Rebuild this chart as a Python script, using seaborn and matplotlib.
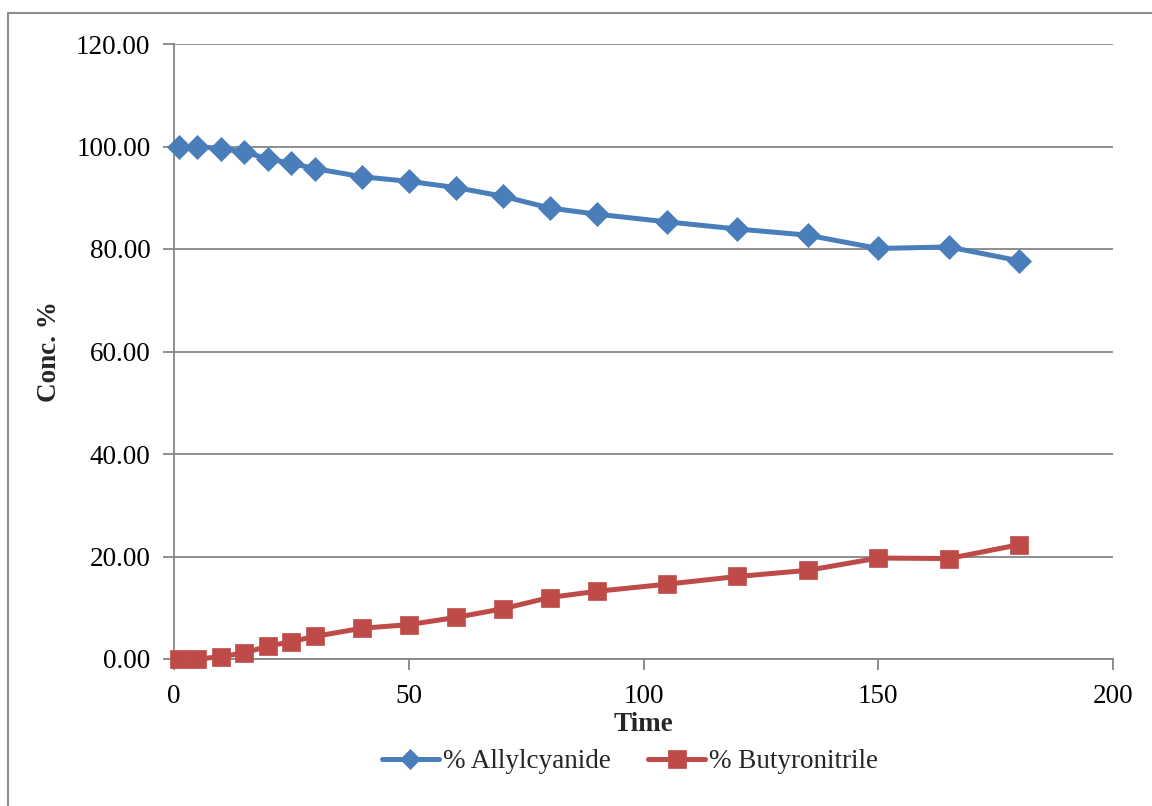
import matplotlib
matplotlib.use("Agg")
import matplotlib.pyplot as plt
import seaborn as sns
import pandas as pd
from matplotlib.lines import Line2D

time = [1, 5, 10, 15, 20, 25, 30, 40, 50, 60, 70, 80, 90, 105, 120, 135, 150, 165, 180]
allylcyanide = [100.0, 100.0, 99.6, 98.9, 97.6, 96.7, 95.7, 94.1, 93.2, 92.0, 90.3, 88.0, 86.8, 85.3, 83.9, 82.7, 80.1, 80.4, 77.7]
butyronitrile = [0.0, 0.0, 0.45, 1.2, 2.5, 3.4, 4.4, 6.0, 6.7, 8.1, 9.8, 12.0, 13.2, 14.6, 16.1, 17.3, 19.7, 19.6, 22.3]
series_names = ["% Allylcyanide", "% Butyronitrile"]
y_ticks = [0, 20, 40, 60, 80, 100, 120]
x_ticks = [0, 50, 100, 150, 200]

sns.set_theme(style="white")
plt.rcParams['font.family'] = ['Liberation Serif', 'DejaVu Serif']

fig = plt.figure(figsize=(11.52, 8.06), dpi=100)
ax = fig.add_axes([174/1152, 1-659/806, (1113-174)/1152, (659-44)/806])

df_a = pd.DataFrame({"Time": time, "Conc": allylcyanide})
df_b = pd.DataFrame({"Time": time, "Conc": butyronitrile})

blue = "#4A7EBB"
red = "#BE4B48"
grid_c = "#868686"
fs = 19.5

sns.lineplot(data=df_a, x="Time", y="Conc", ax=ax, color=blue, linewidth=3.6,
             marker="D", markersize=12, markeredgecolor=blue, markeredgewidth=0.5,
             label=series_names[0], zorder=3, clip_on=False)
sns.lineplot(data=df_b, x="Time", y="Conc", ax=ax, color=red, linewidth=3.6,
             marker="s", markersize=13, markeredgecolor=red, markeredgewidth=0.5,
             label=series_names[1], zorder=3, clip_on=False)

ax.set_xlim(0, 200)
ax.set_ylim(0, 120)
ax.set_xticks(x_ticks)
ax.set_yticks(y_ticks)
ax.set_yticklabels([f"{v:.2f}" for v in y_ticks])
ax.set_xticklabels([str(v) for v in x_ticks])
ax.yaxis.grid(True, color=grid_c, linewidth=1.3)
ax.xaxis.grid(False)
for s in ["top", "right"]:
    ax.spines[s].set_visible(False)
for s in ["left", "bottom"]:
    ax.spines[s].set_color(grid_c)
    ax.spines[s].set_linewidth(1.3)
ax.tick_params(axis="both", which="major", direction="out", length=8, width=1.3,
               color=grid_c, labelsize=fs, labelcolor="black", left=True, bottom=True)
ax.tick_params(axis="y", pad=9)
ax.tick_params(axis="x", pad=10)

ax.set_xlabel("Time", fontsize=fs, fontweight="bold", labelpad=2)
ax.set_ylabel("Conc. %", fontsize=fs, fontweight="bold", labelpad=10)

leg = ax.legend(loc="center", bbox_to_anchor=(630/1152, 1-762/806),
                bbox_transform=fig.transFigure, ncol=2, frameon=False,
                fontsize=fs, handlelength=2.1, columnspacing=1.4, handletextpad=0.15)
hs = leg.legend_handles
hs[0].set_markersize(10.5)
hs[1].set_markersize(13)

# outer chart-area border (left and top visible)
fig.add_artist(Line2D([8/1152, 8/1152], [1-13/806, -0.1], transform=fig.transFigure,
                      color="#8c8c8c", linewidth=1.5))
fig.add_artist(Line2D([8/1152, 1.1], [1-13/806, 1-13/806], transform=fig.transFigure,
                      color="#8c8c8c", linewidth=1.5))

fig.savefig("out.png", dpi=100, facecolor="white")
